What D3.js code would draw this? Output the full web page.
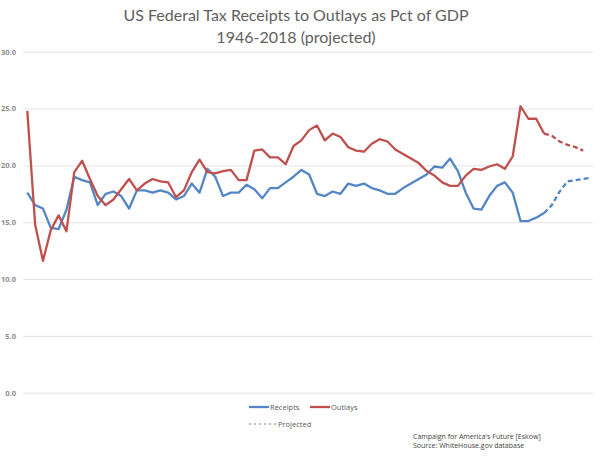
<!DOCTYPE html>
<html>
<head>
<meta charset="utf-8">
<script src="https://cdn.jsdelivr.net/npm/d3@7"></script>
<style>
  html, body { margin: 0; padding: 0; background: #fff; }
  svg { display: block; }
</style>
</head>
<body>
<div id="chart"></div>
<script>
// Chart data (OMB historical tables, % of GDP)
const years = d3.range(1946, 2019);
const receipts = [
  17.6, 16.5, 16.2, 14.5, 14.4, 16.1, 19.0, 18.7, 18.5, 16.5,
  17.5, 17.7, 17.3, 16.2, 17.8, 17.8, 17.6, 17.8, 17.6, 17.0,
  17.3, 18.4, 17.6, 19.7, 19.0, 17.3, 17.6, 17.6, 18.3, 17.9,
  17.1, 18.0, 18.0, 18.5, 19.0, 19.6, 19.2, 17.5, 17.3, 17.7,
  17.5, 18.4, 18.2, 18.4, 18.0, 17.8, 17.5, 17.5, 18.0, 18.4,
  18.8, 19.2, 19.9, 19.8, 20.6, 19.5, 17.6, 16.2, 16.1, 17.3,
  18.2, 18.5, 17.6, 15.1, 15.1, 15.4, 15.8, 16.5, 17.7, 18.6,
  18.7, 18.8, 18.9
];
const outlays = [
  24.8, 14.8, 11.6, 14.3, 15.6, 14.2, 19.4, 20.4, 18.8, 17.3,
  16.5, 17.0, 17.9, 18.8, 17.8, 18.4, 18.8, 18.6, 18.5, 17.2,
  17.8, 19.4, 20.5, 19.4, 19.3, 19.5, 19.6, 18.7, 18.7, 21.3,
  21.4, 20.7, 20.7, 20.1, 21.7, 22.2, 23.1, 23.5, 22.2, 22.8,
  22.5, 21.6, 21.3, 21.2, 21.9, 22.3, 22.1, 21.4, 21.0, 20.6,
  20.2, 19.5, 19.1, 18.5, 18.2, 18.2, 19.1, 19.7, 19.6, 19.9,
  20.1, 19.7, 20.8, 25.2, 24.1, 24.1, 22.8, 22.6, 22.1, 21.8,
  21.6, 21.3
];
const projStart = 2012;
const yTicks = [0, 5, 10, 15, 20, 25, 30];
const seriesNames = ["Receipts", "Outlays"];
const seriesColors = ["#5386c4", "#c0504d"];
const titleLines = ["US Federal Tax Receipts to Outlays as Pct of GDP", "1946-2018 (projected)"];
const sourceLines = ["Campaign for America's Future [Eskow]", "Source: WhiteHouse.gov database"];

const w = 600, h = 457;
const svg = d3.select("#chart").append("svg")
  .attr("width", w)
  .attr("height", h);

const xScale = d3.scaleLinear().domain([1946, 2018]).range([27.3, 591]);
const yScale = d3.scaleLinear().domain([0, 30]).range([392.7, 51.7]);

// Title
svg.append("g")
  .selectAll("text")
  .data(titleLines)
  .enter()
  .append("text")
    .attr("x", 296)
    .attr("y", (d, i) => 21 + i * 22)
    .attr("text-anchor", "middle")
    .attr("font-family", "Lato, sans-serif")
    .attr("font-size", 16)
    .attr("fill", "#5f5f5f")
    .text(d => d);

// Gridlines + y labels
const yAxis = d3.axisLeft(yScale)
  .tickValues(yTicks)
  .tickFormat(d3.format(".1f"))
  .tickSize(-570)
  .tickPadding(7);

const gy = svg.append("g")
  .attr("transform", "translate(23,0)")
  .call(yAxis);
gy.select(".domain").remove();
gy.selectAll(".tick line").attr("stroke", "#e4e4e4").attr("stroke-width", 1);
gy.selectAll(".tick text")
  .attr("font-family", "Open Sans, sans-serif")
  .attr("font-size", 7.5)
  .attr("font-weight", "bold")
  .attr("fill", "#8c8c8c");

// Lines
const line = d3.line()
  .x(d => xScale(d.year))
  .y(d => yScale(d.value));

[receipts, outlays].forEach((vals, si) => {
  const pts = vals.map((v, i) => ({year: years[i], value: v}));
  svg.append("path")
    .datum(pts.filter(d => d.year <= projStart))
    .attr("fill", "none")
    .attr("stroke", seriesColors[si])
    .attr("stroke-width", 2.3)
    .attr("stroke-linejoin", "round")
    .attr("d", line);
  svg.append("path")
    .datum(pts.filter(d => d.year >= projStart))
    .attr("fill", "none")
    .attr("stroke", seriesColors[si])
    .attr("stroke-width", 2.3)
    .attr("stroke-dasharray", "5,3")
    .attr("d", line);
});

// Legend
const legend = svg.append("g");
const legX = [249, 310];
seriesNames.forEach((name, i) => {
  legend.append("line")
    .attr("x1", legX[i]).attr("x2", legX[i] + 20)
    .attr("y1", 407).attr("y2", 407)
    .attr("stroke", seriesColors[i])
    .attr("stroke-width", 2.3);
  legend.append("text")
    .attr("x", legX[i] + 21)
    .attr("y", 409.7)
    .attr("font-family", "Open Sans, sans-serif")
    .attr("font-size", 7.5)
    .attr("fill", "#595959")
    .text(name);
});
legend.append("line")
  .attr("x1", 249).attr("x2", 276)
  .attr("y1", 424).attr("y2", 424)
  .attr("stroke", "#a6a6a6")
  .attr("stroke-width", 1.5)
  .attr("stroke-dasharray", "2,3");
legend.append("text")
  .attr("x", 278)
  .attr("y", 426.7)
  .attr("font-family", "Open Sans, sans-serif")
  .attr("font-size", 7.5)
  .attr("fill", "#595959")
  .text("Projected");

// Source note
svg.append("g")
  .selectAll("text")
  .data(sourceLines)
  .enter()
  .append("text")
    .attr("x", 413)
    .attr("y", (d, i) => 438.5 + i * 9)
    .attr("font-family", "Open Sans, sans-serif")
    .attr("font-size", 7)
    .attr("fill", "#404040")
    .text(d => d);
</script>
</body>
</html>
